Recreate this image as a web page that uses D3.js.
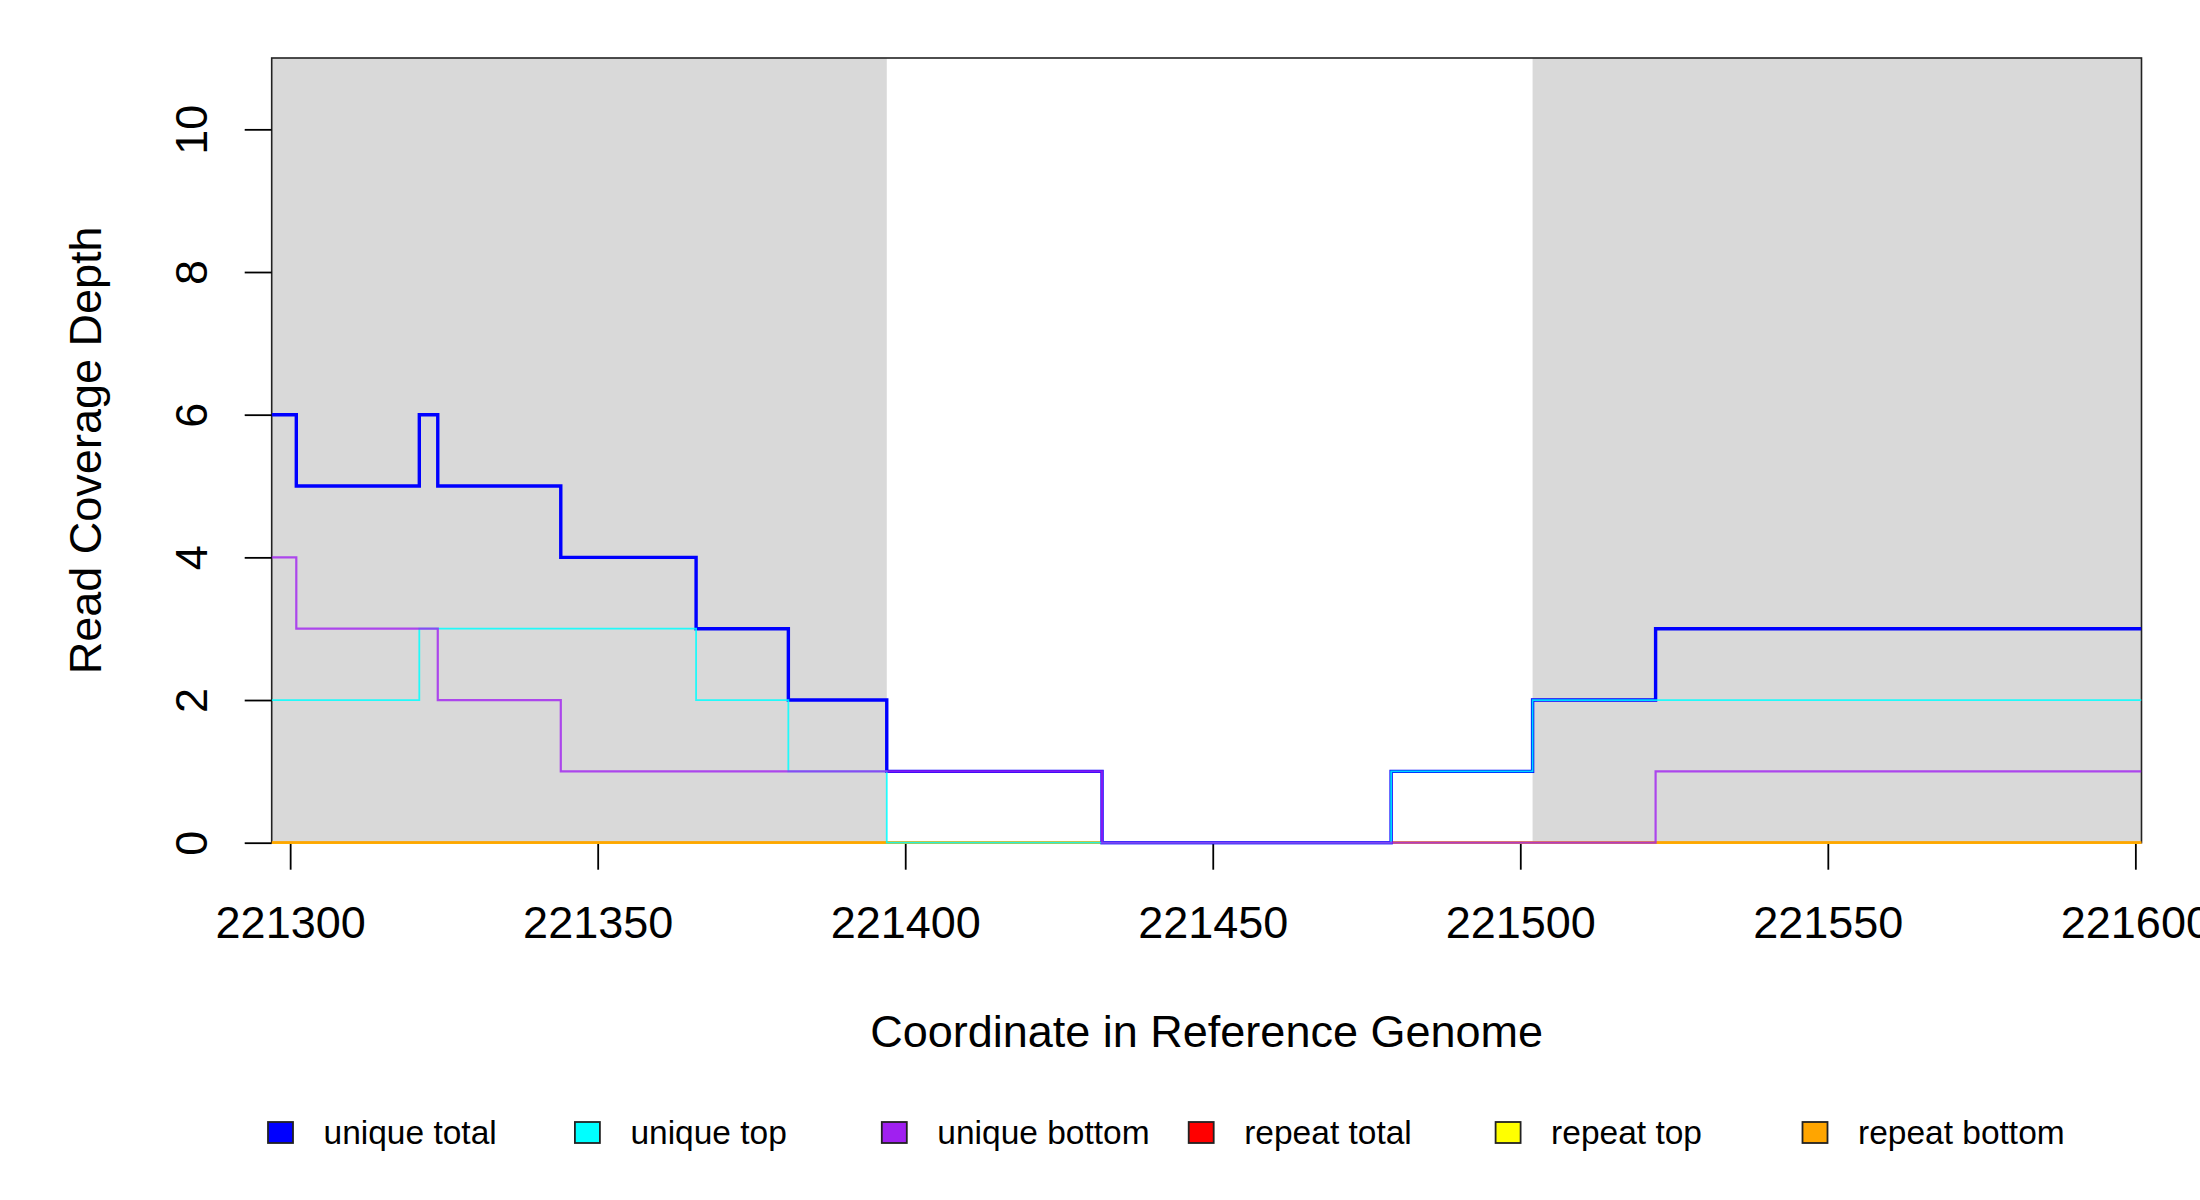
<!DOCTYPE html>
<html>
<head>
<meta charset="utf-8">
<script src="https://cdn.jsdelivr.net/npm/d3@7"></script>
<style>
  html, body { margin: 0; padding: 0; background: #fff; }
  svg { display: block; font-family: 'Liberation Sans', Arial, sans-serif; }
</style>
</head>
<body>
<svg id="coverage" width="2200" height="1200"></svg>
<script>
// step starts (genome coordinate) and depth for each step
const stepStarts = [221297, 221301, 221321, 221324, 221344, 221366, 221381, 221397, 221432, 221479, 221502, 221522]
const uniqueTotal = [6, 5, 6, 5, 4, 3, 2, 1, 0, 1, 2, 3]
const uniqueTop = [2, 2, 3, 3, 3, 2, 1, 0, 0, 1, 2, 2]
const uniqueBottom = [4, 3, 3, 2, 1, 1, 1, 1, 0, 0, 0, 1]
const repeatTotal = [0, 0, 0, 0, 0, 0, 0, 0, 0, 0, 0, 0]
const repeatTop = [0, 0, 0, 0, 0, 0, 0, 0, 0, 0, 0, 0]
const repeatBottom = [0, 0, 0, 0, 0, 0, 0, 0, 0, 0, 0, 0]

// shaded (grey) regions
const shadeStart = [221297, 221502]
const shadeEnd = [221397, 221601]

const xDomain = [221297, 221601]
const yDomain = [0, 11]
const xTicks = [221300, 221350, 221400, 221450, 221500, 221550, 221600]
const yTicks = [0, 2, 4, 6, 8, 10]

const legendLabels = ['unique total', 'unique top', 'unique bottom', 'repeat total', 'repeat top', 'repeat bottom']
const legendColors = ['#0000ff', '#00ffff', '#a020f0', '#ff0000', '#ffff00', '#ffa500']

const svg = d3.select('#coverage')
const plot = { left: 271.7, right: 2141.5, top: 58, bottom: 842.7 }

const x = d3.scaleLinear().domain(xDomain).range([plot.left, plot.right])
const y = d3.scaleLinear().domain(yDomain).range([plot.bottom, plot.top])

svg.append('defs').append('clipPath').attr('id', 'plotClip')
  .append('rect')
  .attr('x', plot.left).attr('y', plot.top - 2)
  .attr('width', plot.right - plot.left).attr('height', plot.bottom - plot.top + 4)

// grey regions
svg.append('g').selectAll('rect')
  .data(shadeStart.map((s, i) => ({ s, e: shadeEnd[i] })))
  .enter().append('rect')
  .attr('x', d => x(d.s))
  .attr('y', plot.top)
  .attr('width', d => x(d.e) - x(d.s))
  .attr('height', plot.bottom - plot.top)
  .attr('fill', '#d9d9d9')

// box
svg.append('rect')
  .attr('x', plot.left).attr('y', plot.top)
  .attr('width', plot.right - plot.left).attr('height', plot.bottom - plot.top)
  .attr('fill', 'none').attr('stroke', '#222').attr('stroke-width', 1.6)

// axes
const xAxis = svg.append('g')
  .attr('transform', `translate(0,${plot.bottom})`)
  .call(d3.axisBottom(x).tickValues(xTicks).tickSize(27).tickFormat(d3.format('d')))
xAxis.select('.domain').remove()
xAxis.selectAll('line').attr('stroke', '#000').attr('stroke-width', 1.8)
xAxis.selectAll('text')
  .attr('font-size', 45).attr('fill', '#000')
  .attr('dy', null).attr('y', 0)
  .attr('transform', 'translate(0,95)')

const yAxis = svg.append('g')
  .attr('transform', `translate(${plot.left},0)`)
  .call(d3.axisLeft(y).tickValues(yTicks).tickSize(27))
yAxis.select('.domain').remove()
yAxis.selectAll('line').attr('stroke', '#000').attr('stroke-width', 1.8)
yAxis.selectAll('text')
  .attr('font-size', 45).attr('fill', '#000')
  .attr('x', null).attr('dy', null)
  .attr('text-anchor', 'middle')
  .attr('transform', 'translate(-65,0) rotate(-90)')

// axis titles
svg.append('text')
  .attr('x', (plot.left + plot.right) / 2)
  .attr('y', 1047)
  .attr('text-anchor', 'middle')
  .attr('font-size', 45)
  .text('Coordinate in Reference Genome')

svg.append('text')
  .attr('transform', `translate(101,${(plot.top + plot.bottom) / 2}) rotate(-90)`)
  .attr('text-anchor', 'middle')
  .attr('font-size', 45)
  .text('Read Coverage Depth')

// coverage step lines
const line = d3.line()
  .x(d => x(d[0]))
  .y(d => y(d[1]))
  .curve(d3.curveStepAfter)

function stepPoints(values) {
  const pts = stepStarts.map((s, i) => [s, values[i]])
  pts.push([xDomain[1], values[values.length - 1]])
  return pts
}

const series = [
  { values: repeatTotal, color: '#ff0000', width: 2.2, opacity: 1 },
  { values: repeatTop, color: '#ffff00', width: 2.2, opacity: 1 },
  { values: repeatBottom, color: '#ffa500', width: 2.2, opacity: 1 },
  { values: uniqueTotal, color: '#0000ff', width: 3.4, opacity: 1 },
  { values: uniqueTop, color: '#00ffff', width: 1.8, opacity: 0.85 },
  { values: uniqueBottom, color: '#a020f0', width: 2.2, opacity: 0.8 }
]

svg.append('g').attr('clip-path', 'url(#plotClip)')
  .selectAll('path')
  .data(series)
  .enter().append('path')
  .attr('d', d => line(stepPoints(d.values)))
  .attr('fill', 'none')
  .attr('stroke', d => d.color)
  .attr('stroke-width', d => d.width)
  .attr('stroke-opacity', d => d.opacity)

// legend
const legend = svg.append('g').attr('transform', 'translate(268,1122)')
const item = legend.selectAll('g')
  .data(legendLabels)
  .enter().append('g')
  .attr('transform', (d, i) => `translate(${i * 306.9},0)`)

item.append('rect')
  .attr('width', 25).attr('height', 21)
  .attr('fill', (d, i) => legendColors[i])
  .attr('stroke', '#222').attr('stroke-width', 1.8)

item.append('text')
  .attr('x', 55.5).attr('y', 22)
  .attr('font-size', 33.5)
  .text(d => d)
</script>
</body>
</html>
